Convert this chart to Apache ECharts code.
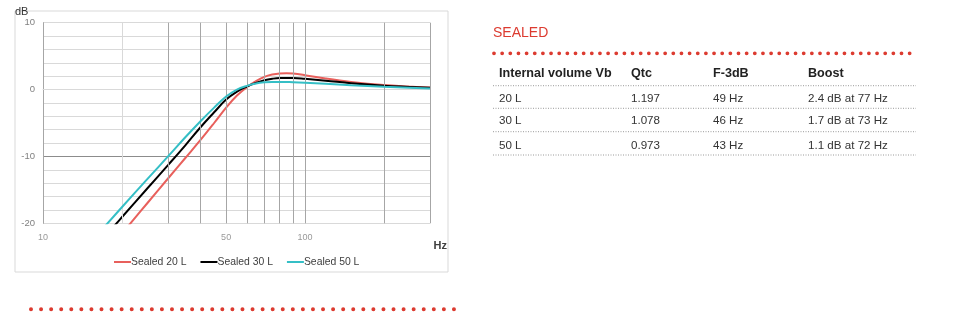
<!DOCTYPE html>
<html><head><meta charset="utf-8">
<script src="https://cdn.jsdelivr.net/npm/echarts@6/dist/echarts.min.js"></script>
<style>html,body{margin:0;padding:0;background:#fff}#c{width:953px;height:325px}</style>
</head><body><div id="c"></div>
<script>
// ---- data ----
const seriesNames = ['Sealed 20 L', 'Sealed 30 L', 'Sealed 50 L'];
const freq20 = [21, 25, 30, 35, 40, 45, 50, 55, 60, 65, 70, 75, 80, 85, 90, 100, 120, 150, 200, 250, 300];
const db20   = [-20.55, -17.0, -13.3, -10.2, -7.5, -5.0, -2.7, -0.9, 0.35, 1.25, 1.9, 2.25, 2.42, 2.45, 2.4, 2.15, 1.65, 1.15, 0.68, 0.45, 0.3];
const freq30 = [18.5, 20, 25, 30, 35, 40, 45, 50, 55, 60, 65, 70, 75, 80, 90, 100, 120, 150, 200, 250, 300];
const db30   = [-20.6, -19.1, -14.8, -11.3, -8.3, -5.6, -3.4, -1.5, -0.3, 0.45, 1.0, 1.4, 1.62, 1.72, 1.72, 1.6, 1.33, 0.95, 0.58, 0.4, 0.27];
const freq50 = [17, 20, 25, 30, 35, 40, 45, 50, 55, 60, 65, 70, 75, 80, 90, 100, 120, 150, 200, 250, 300];
const db50   = [-20.7, -17.6, -13.4, -10.0, -7.1, -4.7, -2.7, -1.05, 0.0, 0.55, 0.9, 1.08, 1.15, 1.15, 1.1, 1.03, 0.88, 0.66, 0.42, 0.27, 0.17];
const xTickLabels = [10, 50, 100];
const xGridFreqs = [20, 30, 40, 50, 60, 70, 80, 90, 100, 200, 300];
const yTickLabels = [-20, -10, 0, 10];

const tableTitle = 'SEALED';
const tableHeader = ['Internal volume Vb', 'Qtc', 'F-3dB', 'Boost'];
const tableVolume = ['20 L', '30 L', '50 L'];
const tableQtc = ['1.197', '1.078', '0.973'];
const tableF3 = ['49 Hz', '46 Hz', '43 Hz'];
const tableBoost = ['2.4 dB at 77 Hz', '1.7 dB at 73 Hz', '1.1 dB at 72 Hz'];

// ---- styles ----
const colors = ['#e8605c', '#000000', '#35bfc6'];
const FONT = '"Liberation Sans", Arial, sans-serif';
const gridLight = '#d9d9d9', gridMid = '#a6a6a6', gridDark = '#8c8c8c';
const red = '#dc3b30';

const zip = (xs, ys) => xs.map((x, i) => [x, ys[i]]);

// horizontal split line colours, from -20 to 10 by 2
const ySplitColors = [];
for (let v = -20; v <= 10; v += 2) {
  ySplitColors.push((v === 0 || v === -10) ? gridDark : gridLight);
}

// table graphics
const colX = [499, 631, 713, 808];
const rowY = [98.5, 121, 145.5];
const sepY = [85.7, 108.3, 131.7, 155];
const graphics = [];
graphics.push({type: 'rect', shape: {x: 15, y: 11, width: 433, height: 261}, style: {fill: 'none', stroke: '#d9d9d9', lineWidth: 1}, silent: true, z: -1});
graphics.push({type: 'text', x: 15, y: 12, style: {text: 'dB', font: '11px ' + FONT, fill: '#333', textVerticalAlign: 'middle'}});
graphics.push({type: 'text', x: 447, y: 246, style: {text: 'Hz', font: 'bold 11px ' + FONT, fill: '#404040', textAlign: 'right', textVerticalAlign: 'middle'}});
graphics.push({type: 'text', x: 493, y: 33, style: {text: tableTitle, font: '14px ' + FONT, fill: red, textVerticalAlign: 'middle'}});
graphics.push({type: 'line', shape: {x1: 494, y1: 53.3, x2: 917, y2: 53.3}, style: {stroke: red, lineWidth: 3.8, lineCap: 'round', lineDash: [0, 8.15]}});
graphics.push({type: 'line', shape: {x1: 31, y1: 309.3, x2: 455, y2: 309.3}, style: {stroke: red, lineWidth: 4, lineCap: 'round', lineDash: [0, 10.07]}});
tableHeader.forEach((t, i) => {
  graphics.push({type: 'text', x: colX[i], y: 74, style: {text: t, font: 'bold 12.6px ' + FONT, fill: '#222', textVerticalAlign: 'middle'}});
});
const rows = [tableVolume, tableQtc, tableF3, tableBoost];
rows.forEach((col, c) => {
  col.forEach((t, r) => {
    graphics.push({type: 'text', x: colX[c], y: rowY[r], style: {text: t, font: '11.6px ' + FONT, fill: '#333', textVerticalAlign: 'middle'}});
  });
});
sepY.forEach(y => {
  graphics.push({type: 'line', shape: {x1: 493, y1: y, x2: 916, y2: y}, style: {stroke: '#9a9a9a', lineWidth: 1, lineDash: [1, 1.5]}});
});

const chart = echarts.init(document.getElementById('c'), null, {renderer: 'canvas'});
chart.setOption({
  animation: false,
  backgroundColor: '#ffffff',
  grid: {left: 43, top: 22.7, width: 387, height: 200.6},
  legend: {
    left: 109, top: 252, itemWidth: 17, itemHeight: 2, itemGap: 14, icon: 'rect',
    data: seriesNames,
    textStyle: {fontFamily: FONT, fontSize: 10.4, color: '#404040', padding: [0, 0, 0, -5]}
  },
  xAxis: {
    type: 'log', logBase: 10, min: 10, max: 300,
    axisLine: {show: true, lineStyle: {color: gridLight, width: 1}},
    axisTick: {show: false}, axisLabel: {show: false}, splitLine: {show: false}
  },
  yAxis: {
    type: 'value', min: -20, max: 10, interval: 2,
    axisLine: {show: true, lineStyle: {color: gridMid, width: 1}},
    axisTick: {show: false},
    axisLabel: {
      fontFamily: FONT, fontSize: 9.5, color: '#808080', margin: 8,
      formatter: v => (yTickLabels.indexOf(v) >= 0 ? String(v) : '')
    },
    splitLine: {show: true, lineStyle: {color: ySplitColors, width: 1}}
  },
  graphic: graphics,
  series: [
    {
      type: 'line', name: '_grid', data: [], z: 1, silent: true,
      markLine: {
        silent: true, symbol: ['none', 'none'], label: {show: false}, animation: false,
        data: xGridFreqs.map(f => ({xAxis: f, lineStyle: {color: f === 20 ? gridLight : gridMid, width: 1, type: 'solid'}}))
      }
    },
    {
      type: 'scatter', name: '_ticks', z: 1, silent: true, symbolSize: 0,
      itemStyle: {color: 'transparent'},
      data: xTickLabels.map(v => [v, -20]),
      label: {show: true, position: 'bottom', distance: 10, formatter: p => String(p.value[0]),
        fontFamily: FONT, fontSize: 9, color: '#808080'}
    },
    {type: 'line', name: seriesNames[0], data: zip(freq20, db20), smooth: 0.4, symbol: 'none', z: 3,
      lineStyle: {color: colors[0], width: 2}, itemStyle: {color: colors[0]}},
    {type: 'line', name: seriesNames[1], data: zip(freq30, db30), smooth: 0.4, symbol: 'none', z: 4,
      lineStyle: {color: colors[1], width: 2}, itemStyle: {color: colors[1]}},
    {type: 'line', name: seriesNames[2], data: zip(freq50, db50), smooth: 0.4, symbol: 'none', z: 5,
      lineStyle: {color: colors[2], width: 2}, itemStyle: {color: colors[2]}}
  ]
});
</script>
</body></html>
